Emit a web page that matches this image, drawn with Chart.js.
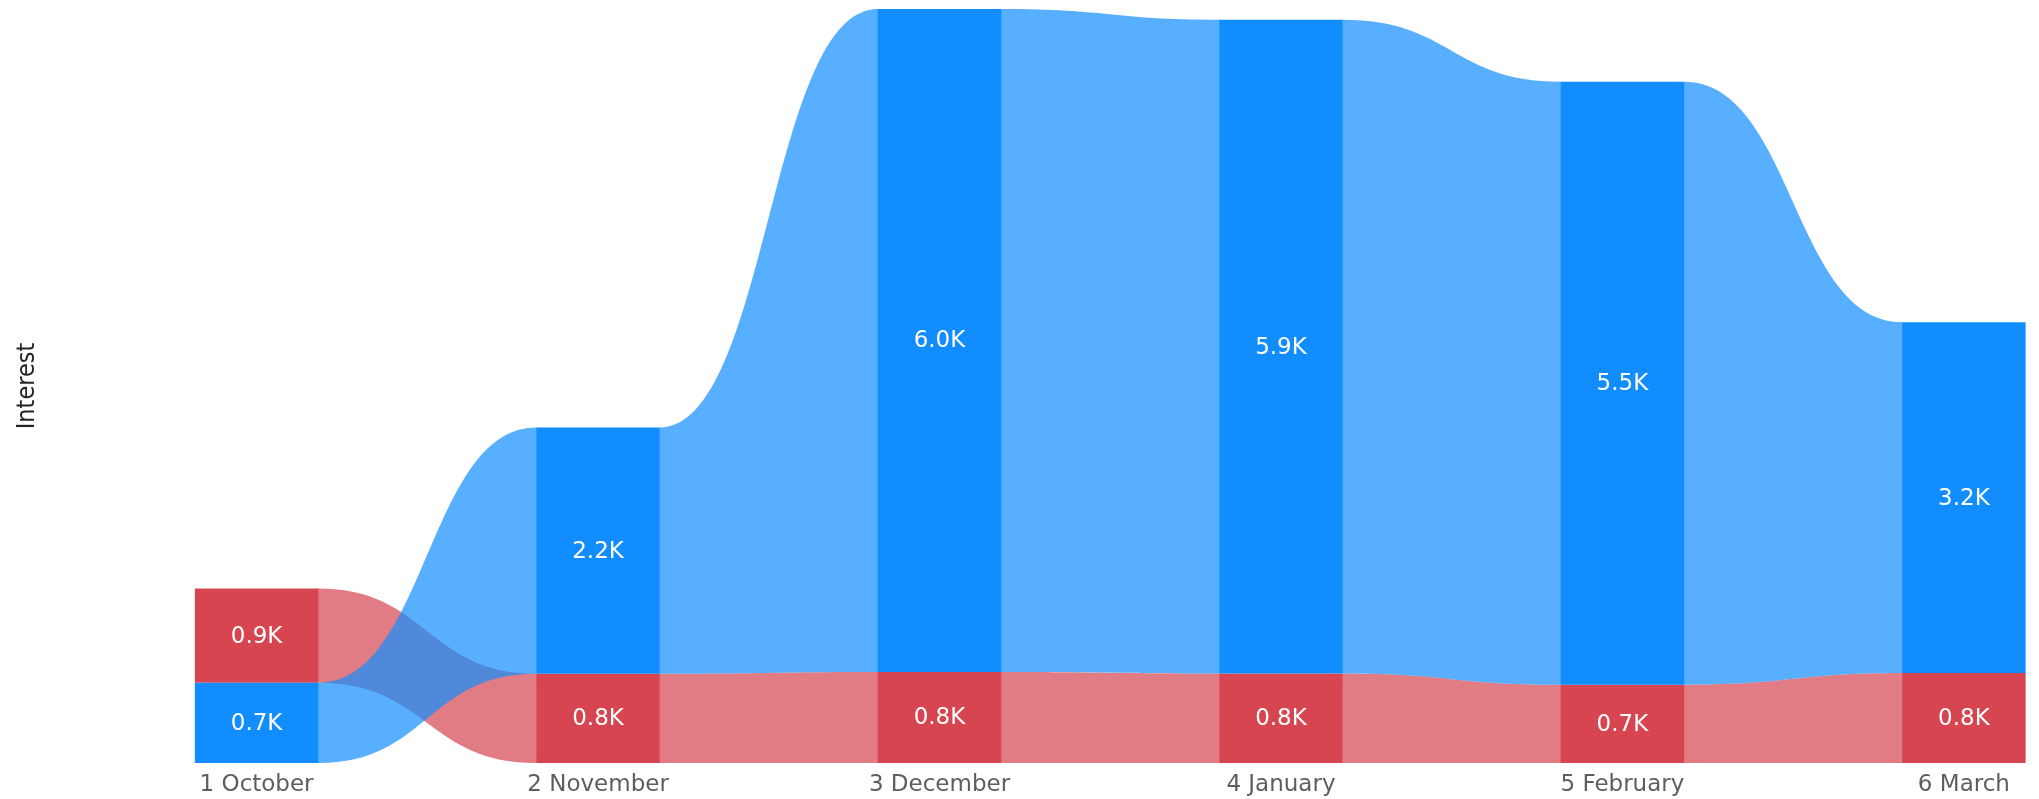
<!DOCTYPE html>
<html>
<head>
<meta charset="utf-8">
<script src="https://cdn.jsdelivr.net/npm/chart.js@4.4.1/dist/chart.umd.min.js"></script>
<style>
html,body{margin:0;padding:0;background:#ffffff;overflow:hidden}
#wrap{width:2039px;height:799px;position:relative}
</style>
</head>
<body>
<div id="wrap"><canvas id="c" width="2039" height="799"></canvas></div>
<script>
// ---- data ----
const months = ['1 October', '2 November', '3 December', '4 January', '5 February', '6 March'];
const seriesNames = ['Group A', 'Group B'];
const blueValues = [727, 2229, 6000, 5916, 5457, 3175];
const redValues = [853, 808, 824, 811, 709, 814];
const axisTitle = 'Interest';

// ---- styles ----
const barColors = ['#118DFF', '#D64550'];
const ribbonColors = ['rgba(17,141,255,0.7)', 'rgba(214,69,80,0.7)'];
const ribbonDrawOrder = [1, 0];

const seriesValues = [blueValues, redValues];
// ribbon stacking: smaller value at the bottom of each column
const ranges = seriesValues.map(() => []);
months.forEach((m, j) => {
  const order = seriesValues.map((v, s) => s).sort((a, b) => seriesValues[a][j] - seriesValues[b][j]);
  let base = 0;
  order.forEach(s => {
    ranges[s][j] = [base, base + seriesValues[s][j]];
    base += seriesValues[s][j];
  });
});
const yMax = Math.max(...months.map((m, j) => seriesValues.reduce((t, vals) => t + vals[j], 0)));

const ribbonPlugin = {
  id: 'ribbons',
  beforeDatasetsDraw(chart) {
    const ctx = chart.ctx;
    const xs = chart.scales.x, ys = chart.scales.y;
    ctx.save();
    ribbonDrawOrder.forEach(s => {
      const meta = chart.getDatasetMeta(s);
      ctx.fillStyle = ribbonColors[s];
      for (let j = 0; j < months.length - 1; j++) {
        const e0 = meta.data[j], e1 = meta.data[j + 1];
        const xa = xs.getPixelForValue(j) + e0.width / 2;
        const xb = xs.getPixelForValue(j + 1) - e1.width / 2;
        const xm = (xa + xb) / 2;
        const ta = ys.getPixelForValue(ranges[s][j][1]);
        const ba = ys.getPixelForValue(ranges[s][j][0]);
        const tb = ys.getPixelForValue(ranges[s][j + 1][1]);
        const bb = ys.getPixelForValue(ranges[s][j + 1][0]);
        ctx.beginPath();
        ctx.moveTo(xa - 0.5, ta);
        ctx.lineTo(xa, ta);
        ctx.bezierCurveTo(xm, ta, xm, tb, xb, tb);
        ctx.lineTo(xb + 0.5, tb);
        ctx.lineTo(xb + 0.5, bb);
        ctx.lineTo(xb, bb);
        ctx.bezierCurveTo(xm, bb, xm, ba, xa, ba);
        ctx.lineTo(xa - 0.5, ba);
        ctx.closePath();
        ctx.fill();
      }
    });
    ctx.restore();
  }
};

const valueLabelPlugin = {
  id: 'valueLabels',
  afterDatasetsDraw(chart) {
    const ctx = chart.ctx;
    ctx.save();
    ctx.fillStyle = '#ffffff';
    ctx.font = '23px "DejaVu Sans"';
    ctx.textAlign = 'center';
    ctx.textBaseline = 'middle';
    seriesValues.forEach((vals, s) => {
      chart.getDatasetMeta(s).data.forEach((el, j) => {
        ctx.fillText((vals[j] / 1000).toFixed(1) + 'K', el.x, (el.y + el.base) / 2 + 1);
      });
    });
    ctx.restore();
  }
};

new Chart(document.getElementById('c'), {
  type: 'bar',
  data: {
    datasets: seriesValues.map((vals, s) => ({
      label: seriesNames[s],
      data: ranges[s].map((r, j) => ({ x: j, y: r })),
      backgroundColor: barColors[s],
      borderWidth: 0,
      grouped: false,
      barPercentage: 1,
      categoryPercentage: 0.3617
    }))
  },
  options: {
    responsive: false,
    animation: false,
    devicePixelRatio: 1,
    layout: { padding: { top: 9, left: 0, right: 0, bottom: 0 } },
    plugins: { legend: { display: false }, tooltip: { enabled: false } },
    scales: {
      x: {
        type: 'linear',
        offset: false,
        min: -0.605,
        max: 5.22,
        grid: { display: false, drawTicks: false, offset: false },
        border: { display: false },
        afterBuildTicks: scale => { scale.ticks = months.map((m, i) => ({ value: i })); },
        afterFit: scale => { scale.height = 36; },
        ticks: {
          autoSkip: false,
          maxRotation: 0,
          padding: 8,
          color: '#605E5C',
          font: { family: 'DejaVu Sans', size: 23 },
          callback: v => months[v]
        }
      },
      y: {
        min: 0,
        max: yMax,
        grid: { display: false, drawTicks: false },
        border: { display: false },
        ticks: { display: false },
        title: {
          display: true,
          text: axisTitle,
          color: '#252423',
          font: { family: "'Liberation Sans Narrow', 'DejaVu Sans Condensed', sans-serif", size: 25 },
          padding: { top: 12, bottom: 0 }
        },
        afterFit: scale => { scale.width = 50; }
      }
    }
  },
  plugins: [ribbonPlugin, valueLabelPlugin]
});
</script>
</body>
</html>
